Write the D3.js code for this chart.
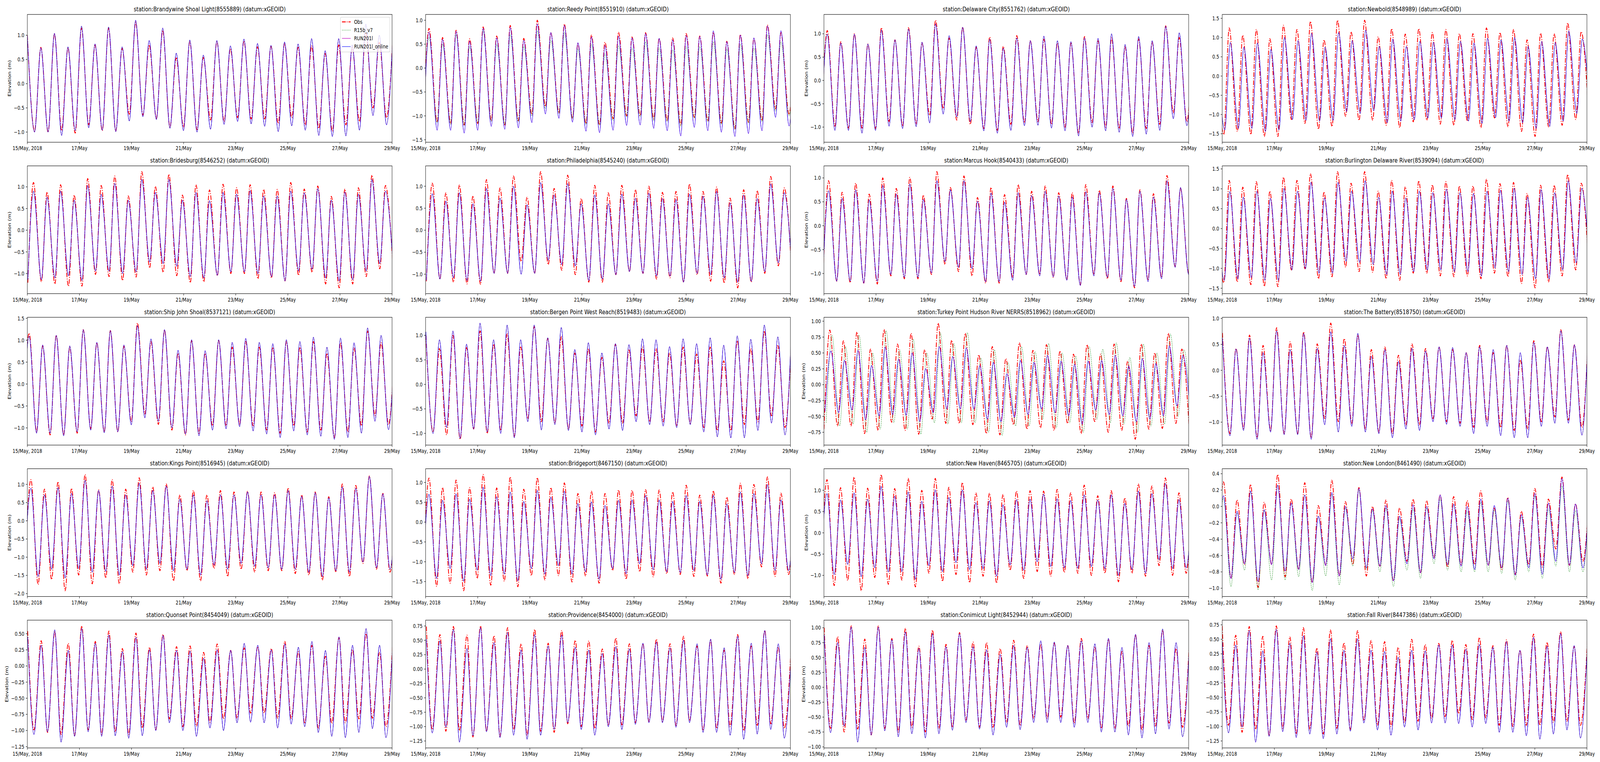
<!DOCTYPE html>
<html><head><meta charset="utf-8">
<script src="https://cdn.jsdelivr.net/npm/d3@7"></script>
<style>html,body{margin:0;padding:0;background:#fff;overflow:hidden;width:100%;height:100%}svg{display:block;background:#fff;width:100vw;height:100vh}text{font-family:"DejaVu Sans",sans-serif;fill:#000}</style>
</head><body><svg id="chart" viewBox="0 0 5150 1950" preserveAspectRatio="none"></svg>
<script>
// ---------------- DATA ----------------
const START_TIME = "2018-05-15T00:00:00";
const END_TIME = "2018-05-29T00:00:00";
const TIDE_PERIOD_HOURS = 12.47;
const xTickDates = ["2018-05-15T00:00:00","2018-05-17T00:00:00","2018-05-19T00:00:00","2018-05-21T00:00:00","2018-05-23T00:00:00","2018-05-25T00:00:00","2018-05-27T00:00:00","2018-05-29T00:00:00"];
const xTickLabels = ["15/May, 2018","17/May","19/May","21/May","23/May","25/May","27/May","29/May"];
const seriesNames = ["Obs","R15b_v7","RUN201l","RUN201l_online"];

const stationNames = ["Brandywine Shoal Light","Reedy Point","Delaware City","Newbold",
 "Bridesburg","Philadelphia","Marcus Hook","Burlington Delaware River",
 "Ship John Shoal","Bergen Point West Reach","Turkey Point Hudson River NERRS","The Battery",
 "Kings Point","Bridgeport","New Haven","New London",
 "Quonset Point","Providence","Conimicut Light","Fall River"];
const stationIds = ["8555889","8551910","8551762","8548989","8546252","8545240","8540433","8539094",
 "8537121","8519483","8518962","8518750","8516945","8467150","8465705","8461490",
 "8454049","8454000","8452944","8447386"];
// hours after start of the first listed high water, offset of first listed low water from it
const firstHighHours = [0.0,3.07,3.07,-6.03, 5.67,6.13,4.25,-6.03, 1.65,0.24,5.43,0.2, 3.3,3.07,2.83,1.19, 0.3,0.71,0.24,0.0];
const lowOffsetHours = [6.66,-4.92,-5.39,7.47, -5.2,-5.42,-4.92,7.47, -5.62,6.6,-5.39,6.97, -5.87,-5.4,-5.86,-5.57, 5.8,5.42,5.9,5.8];
const modelLagHours  = [0,0,0,1.0, 0,0,0,0.5, 0,0,1.0,0, 0,0,0,0, 0,0,0,0];
const r15bLagHours   = [0,0,0,1.0, 0,0,0,0.5, 0,0,2.0,0, 0,0,0,0, 0,0,0,0];

const yTicks = [
 [-1.0,-0.5,0,0.5,1.0],[-1.5,-1.0,-0.5,0,0.5,1.0],[-1.0,-0.5,0,0.5,1.0],[-1.5,-1.0,-0.5,0,0.5,1.0,1.5],
 [-1.0,-0.5,0,0.5,1.0],[-1.0,-0.5,0,0.5,1.0],[-1.0,-0.5,0,0.5,1.0],[-1.5,-1.0,-0.5,0,0.5,1.0,1.5],
 [-1.0,-0.5,0,0.5,1.0,1.5],[-1.0,-0.5,0,0.5,1.0],[-0.75,-0.5,-0.25,0,0.25,0.5,0.75,1.0],[-1.0,-0.5,0,0.5,1.0],
 [-2.0,-1.5,-1.0,-0.5,0,0.5,1.0],[-1.5,-1.0,-0.5,0,0.5,1.0],[-1.0,-0.5,0,0.5,1.0],[-1.0,-0.8,-0.6,-0.4,-0.2,0,0.2,0.4],
 [-1.25,-1.0,-0.75,-0.5,-0.25,0,0.25,0.5],[-1.25,-1.0,-0.75,-0.5,-0.25,0,0.25,0.5,0.75],[-1.0,-0.75,-0.5,-0.25,0,0.25,0.5,0.75,1.0],[-1.25,-1.0,-0.75,-0.5,-0.25,0,0.25,0.5,0.75]
];

// Brandywine Shoal Light
const obsHigh_8555889 = [1.0,0.75,1.03,0.74,1.15,0.8,1.15,0.73,1.27,0.8,1.1,0.53,0.87,0.54,0.87,0.72,0.88,0.76,0.77,0.83,0.75,0.78,0.62,0.8,0.75,1.05,0.85,0.95];
const obsLow_8555889 = [-0.98,-1.0,-0.97,-1.02,-0.85,-0.97,-0.98,-0.63,-0.65,-0.72,-0.9,-0.9,-0.95,-0.75,-0.78,-0.7,-0.73,-0.73,-0.82,-0.7,-0.85,-0.92,-0.98,-0.85,-0.78,-0.5,-0.7];
const modHigh_8555889 = [0.99,0.74,1.04,0.76,1.19,0.82,1.17,0.76,1.31,0.89,1.15,0.63,0.9,0.59,0.89,0.78,0.92,0.83,0.79,0.86,0.82,0.93,0.68,0.93,0.8,1.23,1.0,1.0];
const modLow_8555889 = [-1.0,-1.0,-1.07,-0.97,-0.91,-0.96,-0.99,-0.77,-0.68,-0.74,-0.92,-0.97,-1.0,-0.94,-0.84,-0.78,-0.83,-0.88,-0.99,-0.87,-0.96,-1.07,-1.09,-1.08,-0.96,-0.66,-0.85];
// Reedy Point
const obsHigh_8551910 = [0.83,0.64,0.79,0.61,0.86,0.67,0.89,0.62,1.0,0.74,0.92,0.51,0.69,0.54,0.75,0.65,0.74,0.62,0.63,0.72,0.67,0.75,0.56,0.7,0.62,0.9,0.74,0.8];
const obsLow_8551910 = [-1.1,-1.13,-1.16,-1.19,-1.16,-1.1,-1.19,-1.1,-0.97,-0.8,-0.94,-1.05,-1.16,-1.19,-1.06,-1.0,-1.0,-1.06,-1.1,-1.19,-1.03,-1.11,-1.15,-1.27,-1.13,-1.1,-0.85,-0.97];
const modHigh_8551910 = [0.75,0.6,0.77,0.56,0.83,0.63,0.85,0.58,0.92,0.74,0.89,0.53,0.65,0.47,0.67,0.63,0.72,0.62,0.59,0.68,0.66,0.78,0.55,0.69,0.63,0.88,0.78,0.8];
const modLow_8551910 = [-1.25,-1.3,-1.3,-1.36,-1.3,-1.22,-1.28,-1.25,-1.14,-0.96,-1.05,-1.13,-1.32,-1.35,-1.3,-1.2,-1.19,-1.26,-1.31,-1.42,-1.24,-1.31,-1.34,-1.43,-1.37,-1.31,-1.03,-1.21];
const r15bHigh_8551910 = [0.65,0.5,0.7,0.45,0.78,0.5,0.7,0.45,0.78,0.58,0.75,0.4,0.5,0.3,0.47,0.42,0.55,0.42,0.38,0.45,0.45,0.55,0.4,0.5,0.42,0.7,0.55,0.6];
const r15bLow_8551910 = [-1.12,-1.15,-1.18,-1.2,-1.15,-1.12,-1.18,-1.12,-1.0,-0.85,-0.95,-1.05,-1.18,-1.2,-1.1,-1.02,-1.02,-1.1,-1.12,-1.22,-1.05,-1.12,-1.18,-1.28,-1.15,-1.12,-0.9,-1.0];
// Delaware City
const obsHigh_8551762 = [1.07,0.83,1.0,0.78,1.13,0.87,1.13,0.8,1.29,0.91,1.14,0.71,0.93,0.73,0.96,0.85,0.88,0.8,0.8,0.94,0.85,0.91,0.72,0.89,0.82,1.17,0.92,1.0];
const obsLow_8551762 = [-0.9,-0.98,-1.02,-1.02,-1.03,-0.88,-0.98,-0.94,-0.75,-0.6,-0.85,-0.94,-1.03,-1.07,-0.94,-0.91,-0.88,-0.94,-1.0,-1.13,-0.9,-1.0,-1.03,-1.13,-1.03,-0.94,-0.69,-0.88];
const modHigh_8551762 = [0.99,0.8,0.99,0.78,1.08,0.87,1.1,0.82,1.21,0.96,1.14,0.74,0.88,0.69,0.91,0.85,0.95,0.85,0.83,0.91,0.9,1.0,0.77,0.94,0.85,1.16,1.02,1.0];
const modLow_8551762 = [-0.95,-1.07,-1.07,-1.13,-1.07,-0.98,-1.03,-0.99,-0.91,-0.72,-0.78,-0.88,-1.08,-1.13,-1.07,-0.97,-0.96,-1.02,-1.08,-1.19,-1.0,-1.08,-1.11,-1.2,-1.15,-1.07,-0.82,-0.97];
// Newbold
const obsHigh_8548989 = [1.0,1.25,1.06,1.21,0.97,1.32,1.21,1.42,0.94,1.45,1.15,1.45,1.02,1.23,1.09,1.23,1.13,1.21,1.1,1.1,1.25,1.13,1.21,0.94,1.11,1.1,1.38,1.15];
const obsLow_8548989 = [-1.52,-1.44,-1.52,-1.57,-1.57,-1.13,-1.23,-1.38,-1.31,-1.05,-1.15,-1.15,-1.28,-1.34,-1.19,-1.15,-1.25,-1.28,-1.17,-1.34,-1.09,-1.32,-1.44,-1.57,-1.32,-1.28,-1.13,-1.3];
const modHigh_8548989 = [0.8,0.87,0.75,0.86,0.69,1.0,0.92,1.11,0.75,1.13,0.92,1.19,0.77,0.96,0.77,0.9,0.88,0.98,0.9,0.86,0.98,0.94,1.0,0.77,0.9,0.87,1.17,0.96];
const modLow_8548989 = [-1.4,-1.36,-1.36,-1.44,-1.4,-1.13,-1.15,-1.17,-1.15,-0.92,-0.97,-0.9,-1.21,-1.17,-1.13,-1.09,-1.09,-1.13,-1.17,-1.23,-1.08,-1.17,-1.21,-1.36,-1.31,-1.17,-0.97,-1.1];
// Bridesburg
const obsHigh_8546252 = [1.1,0.88,1.05,0.81,1.19,1.03,1.25,0.79,1.35,1.01,1.29,0.81,1.05,0.93,1.06,0.98,1.05,0.94,0.94,1.1,0.95,1.02,0.78,0.95,0.98,1.27,1.03];
const obsLow_8546252 = [-1.21,-1.19,-1.24,-1.29,-1.29,-1.02,-1.07,-1.16,-1.08,-0.87,-0.97,-1.05,-1.21,-1.19,-1.05,-1.0,-1.0,-1.12,-1.1,-1.17,-1.04,-0.97,-1.24,-1.33,-1.24,-1.07,-0.89,-1.0];
const modHigh_8546252 = [0.9,0.76,0.9,0.69,1.03,0.83,1.08,0.69,1.17,0.87,1.17,0.69,0.87,0.68,0.87,0.83,0.91,0.79,0.79,0.9,0.86,0.96,0.69,0.88,0.83,1.17,0.9];
const modLow_8546252 = [-1.14,-1.14,-1.1,-1.05,-1.16,-0.94,-0.94,-1.0,-0.96,-0.73,-0.77,-0.83,-1.07,-1.1,-1.04,-0.96,-0.96,-1.0,-1.07,-1.17,-0.94,-0.9,-1.1,-1.17,-1.14,-0.94,-0.77,-0.9];
// Philadelphia
const obsHigh_8545240 = [1.07,0.85,1.03,0.78,1.15,0.96,1.23,0.75,1.33,0.95,1.25,0.72,1.02,0.85,1.02,0.92,1.0,0.86,0.88,1.05,0.88,0.98,0.73,0.92,0.9,1.22,0.96];
const obsLow_8545240 = [-1.16,-1.11,-1.18,-1.22,-1.23,-0.98,-0.98,-0.71,-0.98,-0.78,-0.91,-1.01,-1.18,-1.18,-1.01,-0.94,-0.98,-1.11,-1.08,-1.18,-1.01,-1.16,-1.2,-1.31,-1.18,-0.98,-0.81,-1.0];
const modHigh_8545240 = [0.83,0.66,0.85,0.6,0.95,0.73,1.0,0.58,1.08,0.8,1.06,0.6,0.8,0.6,0.82,0.73,0.84,0.72,0.7,0.82,0.77,0.88,0.62,0.8,0.72,1.05,0.85];
const modLow_8545240 = [-1.14,-1.11,-1.08,-1.14,-1.16,-0.98,-0.98,-1.0,-0.98,-0.68,-0.78,-0.81,-1.14,-1.11,-1.01,-0.94,-0.98,-1.04,-1.04,-1.18,-0.98,-1.01,-1.08,-1.18,-1.16,-0.94,-0.74,-0.9];
// Marcus Hook
const obsHigh_8540433 = [0.94,0.7,0.89,0.66,1.0,0.78,1.01,0.64,1.13,0.8,1.04,0.59,0.8,0.65,0.86,0.72,0.83,0.69,0.69,0.86,0.74,0.83,0.57,0.75,0.67,1.05,0.78,0.9];
const obsLow_8540433 = [-0.95,-1.16,-1.19,-1.2,-1.22,-1.05,-1.11,-1.11,-1.02,-0.81,-0.96,-1.05,-1.2,-1.2,-1.08,-1.02,-1.02,-1.08,-1.13,-1.24,-1.02,-1.11,-1.17,-1.3,-1.14,-1.08,-0.85,-0.99];
const modHigh_8540433 = [0.73,0.57,0.75,0.54,0.84,0.66,0.87,0.55,0.94,0.75,0.94,0.51,0.68,0.49,0.69,0.63,0.72,0.62,0.6,0.71,0.69,0.78,0.55,0.72,0.6,0.94,0.8,0.9];
const modLow_8540433 = [-0.9,-1.16,-1.16,-1.2,-1.16,-1.02,-1.08,-1.08,-0.99,-0.75,-0.87,-0.9,-1.17,-1.17,-1.14,-1.02,-1.05,-1.07,-1.14,-1.25,-1.05,-1.08,-1.14,-1.27,-1.17,-1.11,-0.87,-1.02];
// Burlington Delaware River
const obsHigh_8539094 = [1.0,1.21,1.04,1.18,0.94,1.29,1.21,1.38,0.92,1.43,1.14,1.43,0.94,1.21,1.05,1.2,1.1,1.18,1.07,1.07,1.24,1.13,1.16,0.88,1.09,1.09,1.36,1.14];
const obsLow_8539094 = [-1.36,-1.34,-1.41,-1.45,-1.46,-1.04,-1.01,-1.26,-1.21,-0.97,-1.08,-1.1,-1.26,-1.3,-1.12,-1.12,-1.19,-1.21,-1.19,-1.26,-1.12,-1.21,-1.38,-1.49,-1.34,-1.19,-1.04,-1.2];
const modHigh_8539094 = [0.85,0.93,0.79,0.94,0.76,1.01,0.94,1.16,0.77,1.16,0.94,1.2,0.79,0.94,0.77,0.94,0.9,0.99,0.9,0.88,0.94,0.96,1.01,0.79,0.98,0.9,1.2,1.01];
const modLow_8539094 = [-1.3,-1.26,-1.23,-1.3,-1.3,-1.04,-1.01,-1.12,-1.12,-0.82,-0.85,-0.9,-1.15,-1.15,-1.08,-1.04,-1.04,-1.08,-1.08,-1.19,-0.99,-1.08,-1.15,-1.26,-1.26,-1.04,-0.86,-1.0];
// Ship John Shoal
const obsHigh_8537121 = [1.16,0.87,1.11,0.84,1.24,0.94,1.22,0.86,1.39,0.97,1.23,0.7,0.99,0.7,0.99,0.84,0.97,0.84,0.84,0.97,0.84,0.97,0.7,0.94,0.82,1.21,0.94,0.85];
const obsLow_8537121 = [-1.0,-1.09,-1.16,-1.16,-1.12,-1.02,-1.09,-1.09,-0.86,-0.68,-0.92,-1.05,-1.16,-1.12,-0.95,-0.95,-0.92,-0.95,-1.05,-1.12,-0.95,-1.09,-1.05,-1.22,-1.09,-0.95,-0.72,-0.92];
const modHigh_8537121 = [1.09,0.89,1.11,0.87,1.24,0.95,1.22,0.89,1.33,1.03,1.24,0.77,1.01,0.76,1.01,0.95,1.04,0.95,0.92,1.01,0.97,1.07,0.84,1.05,0.94,1.28,1.11,1.0];
const modLow_8537121 = [-1.0,-1.12,-1.12,-1.18,-1.09,-1.05,-1.11,-1.09,-0.93,-0.77,-0.85,-1.0,-1.14,-1.18,-1.05,-1.02,-0.97,-1.07,-1.14,-1.22,-1.07,-1.16,-1.19,-1.26,-1.22,-1.12,-0.85,-1.04];
// Bergen Point West Reach
const obsHigh_8519483 = [1.0,0.73,1.0,0.75,1.09,0.82,1.03,0.76,1.18,0.94,0.97,0.64,0.73,0.55,0.82,0.7,0.76,0.73,0.64,0.76,0.62,0.76,0.48,0.89,0.73,1.09,0.79,0.85];
const obsLow_8519483 = [-0.97,-1.03,-1.12,-0.91,-1.0,-0.94,-1.06,-0.7,-0.76,-0.79,-0.91,-0.85,-0.97,-0.79,-0.79,-0.64,-0.76,-0.76,-0.85,-0.79,-0.88,-0.94,-0.94,-0.82,-0.76,-0.64,-0.88];
const modHigh_8519483 = [1.07,0.91,1.09,0.82,1.25,0.91,1.21,0.91,1.21,0.95,1.16,0.71,0.85,0.64,0.83,0.81,0.93,0.91,0.77,0.93,0.83,0.95,0.8,0.99,0.92,1.21,0.97,1.06];
const modLow_8519483 = [-1.0,-0.88,-1.1,-0.91,-0.97,-1.0,-1.09,-0.76,-0.93,-0.82,-0.94,-0.97,-1.03,-0.91,-0.94,-0.76,-0.82,-0.85,-0.88,-0.82,-0.97,-1.07,-1.09,-1.09,-0.94,-0.79,-1.03];
// Turkey Point Hudson River NERRS
const obsHigh_8518962 = [0.86,0.69,0.83,0.56,0.87,0.64,0.81,0.55,0.97,0.7,0.81,0.47,0.6,0.41,0.66,0.54,0.63,0.53,0.48,0.63,0.48,0.64,0.37,0.64,0.5,0.81,0.56];
const obsLow_8518962 = [-0.7,-0.65,-0.65,-0.77,-0.72,-0.59,-0.72,-0.78,-0.54,-0.61,-0.61,-0.63,-0.77,-0.79,-0.63,-0.7,-0.68,-0.72,-0.61,-0.77,-0.58,-0.75,-0.72,-0.86,-0.7,-0.69,-0.61,-0.75];
const modHigh_8518962 = [0.53,0.38,0.54,0.3,0.59,0.4,0.5,0.25,0.6,0.44,0.58,0.3,0.35,0.17,0.38,0.35,0.46,0.37,0.32,0.37,0.38,0.46,0.29,0.41,0.33,0.61,0.46];
const modLow_8518962 = [-0.42,-0.44,-0.4,-0.55,-0.49,-0.47,-0.48,-0.58,-0.44,-0.38,-0.38,-0.38,-0.54,-0.58,-0.51,-0.47,-0.38,-0.44,-0.49,-0.62,-0.4,-0.47,-0.49,-0.58,-0.54,-0.49,-0.33,-0.5];
const r15bHigh_8518962 = [0.78,0.6,0.78,0.5,0.85,0.55,0.72,0.5,0.82,0.65,0.82,0.42,0.55,0.35,0.6,0.52,0.65,0.5,0.45,0.6,0.56,0.66,0.43,0.64,0.5,0.8,0.55];
const r15bLow_8518962 = [-0.6,-0.65,-0.62,-0.75,-0.7,-0.6,-0.7,-0.78,-0.6,-0.62,-0.6,-0.6,-0.75,-0.8,-0.65,-0.65,-0.55,-0.68,-0.6,-0.75,-0.55,-0.6,-0.62,-0.75,-0.65,-0.62,-0.5,-0.7];
// The Battery
const obsHigh_8518750 = [0.72,0.42,0.68,0.48,0.82,0.55,0.74,0.51,0.91,0.61,0.68,0.4,0.45,0.29,0.51,0.42,0.45,0.4,0.34,0.48,0.34,0.48,0.2,0.57,0.45,0.78,0.49,0.55];
const obsLow_8518750 = [-1.22,-1.12,-1.3,-1.16,-1.22,-1.22,-1.3,-0.93,-0.99,-1.02,-1.13,-1.19,-1.22,-1.05,-1.05,-0.93,-0.99,-1.02,-1.1,-0.99,-1.1,-1.16,-1.13,-0.99,-0.9,-0.96,-1.1];
const modHigh_8518750 = [0.62,0.41,0.62,0.34,0.76,0.4,0.71,0.42,0.74,0.48,0.71,0.27,0.4,0.17,0.42,0.37,0.45,0.44,0.34,0.45,0.4,0.48,0.34,0.54,0.45,0.76,0.49,0.6];
const modLow_8518750 = [-1.26,-1.16,-1.33,-1.19,-1.24,-1.24,-1.33,-1.05,-1.19,-1.08,-1.19,-1.22,-1.3,-1.13,-1.16,-0.99,-1.04,-1.08,-1.22,-1.08,-1.26,-1.3,-1.3,-1.08,-1.02,-1.02,-1.25];
// Kings Point
const obsHigh_8516945 = [1.13,0.87,1.07,0.89,1.27,0.85,1.13,0.87,1.18,0.93,1.01,0.71,0.83,0.71,0.83,0.79,0.81,0.79,0.77,0.9,0.71,0.79,0.66,1.01,0.97,1.23,0.75,0.9];
const obsLow_8516945 = [-1.5,-1.75,-1.61,-1.92,-1.49,-1.73,-1.57,-1.73,-1.41,-1.49,-1.37,-1.65,-1.37,-1.65,-1.31,-1.53,-1.33,-1.41,-1.37,-1.37,-1.45,-1.49,-1.63,-1.41,-1.53,-1.17,-1.33,-1.41];
const modHigh_8516945 = [0.89,0.71,0.91,0.75,1.11,0.83,0.95,0.71,1.03,0.83,0.95,0.59,0.71,0.55,0.71,0.71,0.79,0.71,0.71,0.83,0.67,0.77,0.63,0.93,0.89,1.22,0.74,0.85];
const modLow_8516945 = [-1.3,-1.53,-1.33,-1.57,-1.31,-1.41,-1.39,-1.49,-1.23,-1.33,-1.17,-1.37,-1.33,-1.49,-1.21,-1.33,-1.17,-1.25,-1.29,-1.33,-1.33,-1.41,-1.53,-1.37,-1.41,-1.13,-1.29,-1.33];
// Bridgeport
const obsHigh_8467150 = [1.11,0.87,1.06,0.87,1.2,0.86,1.14,0.83,1.12,0.87,0.99,0.72,0.78,0.72,0.81,0.8,0.82,0.81,0.76,0.93,0.68,0.79,0.63,0.98,0.95,1.14,0.73,1.0];
const obsLow_8467150 = [-1.45,-1.62,-1.54,-1.73,-1.42,-1.59,-1.49,-1.63,-1.35,-1.46,-1.35,-1.51,-1.36,-1.54,-1.22,-1.44,-1.25,-1.38,-1.3,-1.32,-1.37,-1.36,-1.54,-1.32,-1.43,-1.13,-1.37,-1.32];
const modHigh_8467150 = [0.7,0.55,0.71,0.58,0.88,0.64,0.76,0.52,0.8,0.63,0.78,0.47,0.51,0.42,0.55,0.56,0.67,0.56,0.52,0.67,0.52,0.67,0.46,0.76,0.72,0.95,0.56,0.75];
const modLow_8467150 = [-1.2,-1.42,-1.17,-1.49,-1.21,-1.35,-1.31,-1.48,-1.17,-1.31,-1.1,-1.31,-1.25,-1.44,-1.17,-1.3,-1.05,-1.2,-1.25,-1.27,-1.22,-1.33,-1.44,-1.27,-1.35,-1.05,-1.22,-1.22];
// New Haven
const obsHigh_8465705 = [1.25,1.06,1.31,1.05,1.37,1.04,1.28,1.0,1.28,1.07,1.18,0.94,0.93,0.9,0.98,0.99,0.98,1.02,0.94,1.12,0.87,0.99,0.82,1.15,1.1,1.29,0.94,1.1];
const obsLow_8465705 = [-1.1,-1.24,-1.12,-1.36,-1.05,-1.21,-1.11,-1.27,-0.95,-1.14,-0.98,-1.17,-1.02,-1.18,-0.88,-1.07,-0.91,-1.02,-0.93,-0.95,-1.0,-0.95,-1.15,-0.95,-1.02,-0.77,-1.0,-0.95];
const modHigh_8465705 = [0.92,0.77,0.94,0.79,1.09,0.86,0.96,0.74,1.01,0.83,1.01,0.71,0.75,0.66,0.78,0.79,0.91,0.8,0.76,0.89,0.77,0.89,0.69,0.98,0.92,1.16,0.78,0.9];
const modLow_8465705 = [-0.85,-0.98,-0.74,-1.03,-0.82,-0.92,-0.91,-1.09,-0.77,-0.91,-0.7,-0.86,-0.84,-1.02,-0.75,-0.88,-0.68,-0.79,-0.82,-0.83,-0.79,-0.84,-1.0,-0.86,-0.95,-0.63,-0.84,-0.82];
// New London
const obsHigh_8461490 = [0.3,0.08,0.27,0.05,0.39,0.09,0.29,0.01,0.32,0.06,0.23,0.0,0.08,-0.02,0.09,0.07,0.14,0.12,0.07,0.19,-0.02,0.11,-0.06,0.22,0.09,0.36,0.03,0.1];
const obsLow_8461490 = [-0.7,-0.88,-0.71,-0.99,-0.71,-0.86,-0.77,-0.93,-0.72,-0.85,-0.71,-0.85,-0.73,-0.91,-0.67,-0.81,-0.62,-0.74,-0.71,-0.71,-0.72,-0.77,-0.83,-0.71,-0.74,-0.52,-0.72,-0.67];
const modHigh_8461490 = [0.13,-0.06,0.19,-0.04,0.26,0.04,0.14,-0.12,0.17,0.0,0.22,-0.03,0.01,-0.12,0.02,0.0,0.14,0.03,0.0,0.09,0.01,0.1,-0.1,0.16,0.04,0.34,0.03,0.12];
const modLow_8461490 = [-0.7,-0.88,-0.7,-0.92,-0.71,-0.79,-0.77,-0.93,-0.72,-0.85,-0.64,-0.75,-0.73,-0.91,-0.7,-0.81,-0.64,-0.71,-0.73,-0.77,-0.72,-0.75,-0.84,-0.75,-0.83,-0.67,-0.72,-0.75];
const r15bHigh_8461490 = [0.1,-0.08,0.18,-0.05,0.26,0.04,0.14,-0.12,0.15,-0.02,0.2,-0.05,-0.02,-0.15,-0.03,-0.02,0.09,0.02,-0.06,0.05,-0.04,0.07,-0.13,0.13,-0.03,0.25,-0.05,0.08];
const r15bLow_8461490 = [-0.78,-0.98,-0.78,-1.02,-0.9,-0.9,-0.86,-1.03,-0.85,-0.96,-0.73,-0.77,-0.8,-0.98,-0.78,-0.88,-0.7,-0.78,-0.8,-0.8,-0.8,-0.82,-0.9,-0.8,-0.88,-0.73,-0.8,-0.8];
// Quonset Point
const obsHigh_8454049 = [0.54,0.39,0.53,0.35,0.62,0.38,0.54,0.27,0.51,0.29,0.49,0.3,0.31,0.21,0.34,0.24,0.28,0.3,0.27,0.38,0.22,0.32,0.15,0.44,0.25,0.5,0.21,0.5];
const obsLow_8454049 = [-0.99,-1.03,-1.06,-1.08,-0.99,-1.06,-1.02,-1.06,-0.96,-0.99,-0.82,-0.94,-0.93,-0.87,-0.82,-0.81,-0.73,-0.73,-0.81,-0.81,-0.89,-0.96,-0.89,-0.88,-0.82,-0.81,-0.94];
const modHigh_8454049 = [0.45,0.32,0.56,0.24,0.58,0.35,0.48,0.22,0.44,0.25,0.47,0.24,0.23,0.12,0.25,0.24,0.35,0.32,0.25,0.34,0.29,0.38,0.24,0.45,0.32,0.58,0.32,0.5];
const modLow_8454049 = [-1.06,-1.02,-1.18,-1.09,-1.02,-1.09,-1.08,-1.12,-1.08,-1.0,-0.88,-1.0,-1.09,-0.96,-1.0,-0.88,-0.87,-0.88,-0.96,-0.9,-0.94,-1.03,-1.09,-1.11,-1.03,-0.97,-1.11];
// Providence
const obsHigh_8454000 = [0.74,0.6,0.74,0.59,0.75,0.58,0.72,0.44,0.69,0.45,0.67,0.5,0.49,0.35,0.54,0.44,0.44,0.52,0.44,0.57,0.4,0.5,0.33,0.6,0.4,0.67,0.38,0.6];
const obsLow_8454000 = [-1.05,-1.08,-1.07,-1.18,-1.08,-1.17,-1.05,-1.15,-1.08,-1.1,-0.95,-1.0,-1.03,-0.98,-0.97,-0.93,-0.91,-0.91,-0.98,-0.9,-1.07,-1.03,-1.0,-1.07,-0.98,-0.95,-1.03];
const modHigh_8454000 = [0.52,0.49,0.69,0.36,0.72,0.46,0.64,0.33,0.6,0.4,0.59,0.38,0.33,0.27,0.39,0.35,0.45,0.47,0.37,0.5,0.44,0.52,0.37,0.57,0.45,0.67,0.44,0.5];
const modLow_8454000 = [-1.11,-1.01,-1.27,-1.16,-1.09,-1.19,-1.15,-1.22,-1.15,-1.05,-0.93,-1.05,-1.15,-1.0,-1.05,-0.96,-0.93,-0.93,-1.01,-0.93,-1.1,-1.1,-1.15,-1.22,-1.13,-1.05,-1.2];
// Conimicut Light
const obsHigh_8452944 = [1.0,0.85,1.03,0.81,1.03,0.82,0.99,0.69,0.96,0.72,0.92,0.76,0.75,0.65,0.79,0.7,0.72,0.74,0.7,0.82,0.68,0.81,0.6,0.88,0.7,0.96,0.65,0.85];
const obsLow_8452944 = [-0.69,-0.75,-0.7,-0.8,-0.69,-0.75,-0.67,-0.75,-0.69,-0.67,-0.55,-0.67,-0.67,-0.59,-0.64,-0.52,-0.52,-0.5,-0.6,-0.52,-0.69,-0.69,-0.65,-0.72,-0.65,-0.6,-0.67];
const modHigh_8452944 = [0.88,0.75,1.01,0.67,1.01,0.8,0.93,0.65,0.9,0.68,0.9,0.68,0.63,0.55,0.7,0.67,0.78,0.76,0.7,0.78,0.73,0.82,0.67,0.89,0.75,0.98,0.75,0.82];
const modLow_8452944 = [-0.76,-0.65,-0.92,-0.8,-0.73,-0.83,-0.78,-0.85,-0.78,-0.72,-0.59,-0.7,-0.8,-0.67,-0.71,-0.59,-0.59,-0.59,-0.67,-0.59,-0.75,-0.75,-0.8,-0.85,-0.78,-0.7,-0.83];
// Fall River
const obsHigh_8447386 = [0.73,0.57,0.72,0.55,0.73,0.54,0.7,0.35,0.66,0.44,0.65,0.48,0.46,0.36,0.5,0.41,0.43,0.48,0.41,0.53,0.39,0.49,0.31,0.59,0.45,0.63,0.38,0.55];
const obsLow_8447386 = [-0.98,-1.1,-1.05,-1.16,-1.03,-1.13,-1.05,-1.13,-1.03,-1.05,-0.9,-0.98,-1.0,-0.93,-0.91,-0.86,-0.83,-0.78,-0.88,-0.85,-0.98,-1.0,-0.98,-0.98,-0.93,-0.91,-0.98];
const modHigh_8447386 = [0.46,0.4,0.65,0.3,0.67,0.43,0.56,0.28,0.51,0.31,0.51,0.31,0.29,0.19,0.31,0.3,0.4,0.4,0.33,0.41,0.36,0.46,0.31,0.53,0.38,0.6,0.39,0.5];
const modLow_8447386 = [-1.11,-1.01,-1.27,-1.17,-1.09,-1.19,-1.13,-1.21,-1.13,-1.08,-0.94,-1.06,-1.15,-1.01,-1.06,-0.94,-0.94,-0.95,-1.01,-0.95,-1.1,-1.1,-1.16,-1.22,-1.13,-1.06,-1.2];

// table built from the arrays above
const seriesTable = {
 "8555889":[obsHigh_8555889,obsLow_8555889,modHigh_8555889,modLow_8555889],
 "8551910":[obsHigh_8551910,obsLow_8551910,modHigh_8551910,modLow_8551910,r15bHigh_8551910,r15bLow_8551910],
 "8551762":[obsHigh_8551762,obsLow_8551762,modHigh_8551762,modLow_8551762],
 "8548989":[obsHigh_8548989,obsLow_8548989,modHigh_8548989,modLow_8548989],
 "8546252":[obsHigh_8546252,obsLow_8546252,modHigh_8546252,modLow_8546252],
 "8545240":[obsHigh_8545240,obsLow_8545240,modHigh_8545240,modLow_8545240],
 "8540433":[obsHigh_8540433,obsLow_8540433,modHigh_8540433,modLow_8540433],
 "8539094":[obsHigh_8539094,obsLow_8539094,modHigh_8539094,modLow_8539094],
 "8537121":[obsHigh_8537121,obsLow_8537121,modHigh_8537121,modLow_8537121],
 "8519483":[obsHigh_8519483,obsLow_8519483,modHigh_8519483,modLow_8519483],
 "8518962":[obsHigh_8518962,obsLow_8518962,modHigh_8518962,modLow_8518962,r15bHigh_8518962,r15bLow_8518962],
 "8518750":[obsHigh_8518750,obsLow_8518750,modHigh_8518750,modLow_8518750],
 "8516945":[obsHigh_8516945,obsLow_8516945,modHigh_8516945,modLow_8516945],
 "8467150":[obsHigh_8467150,obsLow_8467150,modHigh_8467150,modLow_8467150],
 "8465705":[obsHigh_8465705,obsLow_8465705,modHigh_8465705,modLow_8465705],
 "8461490":[obsHigh_8461490,obsLow_8461490,modHigh_8461490,modLow_8461490,r15bHigh_8461490,r15bLow_8461490],
 "8454049":[obsHigh_8454049,obsLow_8454049,modHigh_8454049,modLow_8454049],
 "8454000":[obsHigh_8454000,obsLow_8454000,modHigh_8454000,modLow_8454000],
 "8452944":[obsHigh_8452944,obsLow_8452944,modHigh_8452944,modLow_8452944],
 "8447386":[obsHigh_8447386,obsLow_8447386,modHigh_8447386,modLow_8447386]
};

// ---------------- LAYOUT / STYLE ----------------
const PT = 100/72;
const LAYOUT = {left0:88, colPitch:1282, width:1174, top0:37, rowPitch:387.5, height:327, cols:4};
const FONT_TICK = 10*PT, FONT_TITLE = 12*PT, TICK_LEN = 3.5*PT, TICK_PAD = 3.5*PT, TITLE_PAD = 6*PT, LABEL_PAD = 4*PT;
const STYLES = [
 {color:"#ff0000", width:2.5, dash:"12,3.3,2.3,3.3"},
 {color:"#008000", width:0.9, dash:"3.2,1.8"},
 {color:"#bf00bf", width:1.2, dash:null},
 {color:"#0000ff", width:1.1, dash:null}
];

const svg = d3.select("#chart");
svg.append("rect").attr("width",5150).attr("height",1950).attr("fill","#fff");
const t0 = new Date(START_TIME), t1 = new Date(END_TIME);
const toDate = h => new Date(t0.getTime() + h*3600e3);

function extrema(highs, lows, tH, lag, shift){
  const pts = [];
  highs.forEach((v,k)=>pts.push([tH+shift+k*TIDE_PERIOD_HOURS, v]));
  lows.forEach((v,k)=>pts.push([tH+shift+lag+k*TIDE_PERIOD_HOURS, v]));
  return pts.sort((a,b)=>a[0]-b[0]);
}
function decimalsOf(ticks){
  return d3.max(ticks, v => Math.abs(Math.round(v*10) - v*10) > 1e-6 ? 2 : 1);
}

stationIds.forEach((id, i) => {
  const col = i % LAYOUT.cols, row = Math.floor(i / LAYOUT.cols);
  const X0 = LAYOUT.left0 + col*LAYOUT.colPitch, Y0 = LAYOUT.top0 + row*LAYOUT.rowPitch;
  const W = LAYOUT.width, H = LAYOUT.height;
  const arr = seriesTable[id];
  const tH = firstHighHours[i], lag = lowOffsetHours[i];
  const obs = extrema(arr[0], arr[1], tH, lag, 0);
  const mod = extrema(arr[2], arr[3], tH, lag, modelLagHours[i]);
  const r15 = arr.length > 4 ? extrema(arr[4], arr[5], tH, lag, r15bLagHours[i]) : extrema(arr[2], arr[3], tH, lag, r15bLagHours[i]);
  const series = [obs, r15, mod, mod];
  const inside = series.flat().filter(p => p[0] >= 0 && p[0] <= 336).map(p => p[1]);
  const lo = d3.min(inside), hi = d3.max(inside), pad = (hi-lo)*0.05;

  const x = d3.scaleTime().domain([t0, t1]).range([0, W]);
  const y = d3.scaleLinear().domain([lo-pad, hi+pad]).range([H, 0]);

  const g = svg.append("g").attr("transform", `translate(${X0},${Y0})`);
  const clipId = "clip" + i;
  g.append("clipPath").attr("id", clipId).append("rect").attr("width", W).attr("height", H);
  const plot = g.append("g").attr("clip-path", `url(#${clipId})`);
  const line = d3.line().x(p => x(toDate(p[0]))).y(p => y(p[1])).curve(d3.curveMonotoneX);
  series.forEach((pts, s) => {
    const st = STYLES[s];
    plot.append("path").attr("d", line(pts)).attr("fill","none")
      .attr("stroke", st.color).attr("stroke-width", st.width)
      .attr("stroke-dasharray", st.dash).attr("stroke-linejoin","round");
  });

  // spines
  g.append("rect").attr("width", W).attr("height", H).attr("fill","none").attr("stroke","#000").attr("stroke-width",0.8*PT);

  // x ticks
  xTickDates.forEach((d, k) => {
    const xx = x(new Date(d));
    g.append("line").attr("x1",xx).attr("x2",xx).attr("y1",H).attr("y2",H+TICK_LEN).attr("stroke","#000").attr("stroke-width",0.8*PT);
    g.append("text").attr("x",xx).attr("y",H+TICK_LEN+TICK_PAD+0.76*FONT_TICK).attr("text-anchor","middle")
      .attr("font-size",FONT_TICK).text(xTickLabels[k]);
  });
  // y ticks
  const dom = y.domain();
  const ticks = yTicks[i].filter(v => v >= dom[0]-1e-9 && v <= dom[1]+1e-9);
  const fmt = d3.format("." + decimalsOf(ticks) + "f");
  let minLeft = 0;
  ticks.forEach(v => {
    const yy = y(v);
    g.append("line").attr("x1",0).attr("x2",-TICK_LEN).attr("y1",yy).attr("y2",yy).attr("stroke","#000").attr("stroke-width",0.8*PT);
    const t = g.append("text").attr("x",-TICK_LEN-TICK_PAD).attr("y",yy).attr("dy","0.36em").attr("text-anchor","end")
      .attr("font-size",FONT_TICK).text(fmt(v));
    const w = t.node().getComputedTextLength();
    minLeft = Math.min(minLeft, -TICK_LEN-TICK_PAD-w);
  });
  // y label on columns 1 and 3
  if (col % 2 === 0) {
    const lx = minLeft - LABEL_PAD - 0.236*FONT_TICK;
    g.append("text").attr("transform", `translate(${lx},${H/2}) rotate(-90)`).attr("text-anchor","middle")
      .attr("font-size",FONT_TICK).text("Elevation (m)");
  }
  // title
  g.append("text").attr("x", W/2).attr("y", -TITLE_PAD).attr("text-anchor","middle").attr("font-size",FONT_TITLE)
    .text(`station:${stationNames[i]}(${id}) (datum:xGEOID)`);

  // legend in the first panel
  if (i === 0) {
    const lg = g.append("g");
    const box = lg.append("rect").attr("rx",3).attr("fill","#fff").attr("fill-opacity",0.8).attr("stroke","#cccccc").attr("stroke-width",1.1);
    let maxW = 0;
    const handleX0 = 5, handleX1 = 5 + 2*FONT_TICK, textX = handleX1 + 0.8*FONT_TICK;
    seriesNames.forEach((nm, s) => {
      const cy = 12 + s*21.1;
      const st = STYLES[s];
      lg.append("line").attr("x1",handleX0).attr("x2",handleX1).attr("y1",cy).attr("y2",cy)
        .attr("stroke",st.color).attr("stroke-width",st.width).attr("stroke-dasharray",st.dash);
      const t = lg.append("text").attr("x",textX).attr("y",cy).attr("dy","0.36em").attr("font-size",FONT_TICK).text(nm);
      maxW = Math.max(maxW, t.node().getComputedTextLength());
    });
    const bw = textX + maxW + 0.4*FONT_TICK, bh = 89;
    box.attr("width", bw).attr("height", bh);
    lg.attr("transform", `translate(${W - 7 - bw},7)`);
  }
});
</script></body></html>
